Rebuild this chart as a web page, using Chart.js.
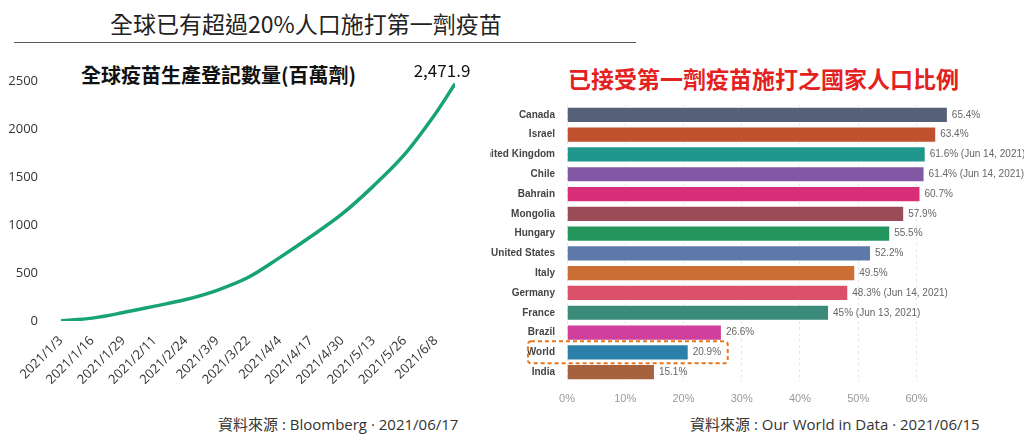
<!DOCTYPE html>
<html>
<head>
<meta charset="utf-8">
<script src="https://cdn.jsdelivr.net/npm/chart.js@4/dist/chart.umd.min.js"></script>
<style>
  body { margin: 0; background: #fff; width: 1024px; height: 441px; overflow: hidden; position: relative; font-family: 'Noto Sans CJK TC', 'Noto Sans', sans-serif; }
  .abs { position: absolute; white-space: nowrap; }
  #mainTitle { left: 110px; top: 6px; font-size: 23px; color: #222; }
  #rule { left: 14px; top: 42px; width: 622px; height: 0; border-top: 1.5px solid #555; }
  #leftSub { left: 81px; top: 60px; font-size: 20px; font-weight: bold; color: #111; }
  #rightTitle { left: 568px; top: 61px; font-size: 23px; font-weight: bold; color: #e3221f; }
  .src { font-family: 'Open Sans', 'Noto Sans CJK TC', sans-serif; font-size: 15px; color: #333; top: 413px; }
  #leftSrc { left: 218px; }
  #rightSrc { left: 690px; }
  #lineBox { left: 0; top: 0; width: 470px; height: 441px; }
  #barBox { left: 490px; top: 95px; width: 534px; height: 320px; }
</style>
</head>
<body>
<div class="abs" id="mainTitle">全球已有超過20%人口施打第一劑疫苗</div>
<div class="abs" id="rule"></div>
<div class="abs" id="leftSub">全球疫苗生產登記數量(百萬劑)</div>
<div class="abs" id="rightTitle">已接受第一劑疫苗施打之國家人口比例</div>
<div class="abs src" id="leftSrc">資料來源 : Bloomberg · 2021/06/17</div>
<div class="abs src" id="rightSrc">資料來源 : Our World in Data · 2021/06/15</div>
<div class="abs" id="lineBox"><canvas id="lineChart"></canvas></div>
<div class="abs" id="barBox"><canvas id="barChart"></canvas></div>

<script>
// left: cumulative vaccine doses registered (millions)
var lineDates = ['2021/1/3', '2021/1/16', '2021/1/29', '2021/2/11', '2021/2/24', '2021/3/9', '2021/3/22',
                 '2021/4/4', '2021/4/17', '2021/4/30', '2021/5/13', '2021/5/26', '2021/6/8', '2021/6/16'];
var lineValues = [3, 30, 88, 155, 224, 320, 455, 660, 880, 1115, 1405, 1735, 2165, 2471.9];
var lastLabel = '2,471.9';

// right: share of people with at least one dose
var countries = ['Canada', 'Israel', 'United Kingdom', 'Chile', 'Bahrain', 'Mongolia', 'Hungary',
                 'United States', 'Italy', 'Germany', 'France', 'Brazil', 'World', 'India'];
var shares = [65.4, 63.4, 61.6, 61.4, 60.7, 57.9, 55.5, 52.2, 49.5, 48.3, 45, 26.6, 20.9, 15.1];
var shareNotes = ['', '', ' (Jun 14, 2021)', ' (Jun 14, 2021)', '', '', '', '', '', ' (Jun 14, 2021)', ' (Jun 13, 2021)', '', '', ''];
var highlight = 'World';

var barColors = ['#566179', '#c0512e', '#20978c', '#8258a5', '#d92f78', '#9b4a57', '#24945d',
                 '#5d79a9', '#cb6f36', '#dc5169', '#3a8b79', '#d03f9c', '#2b80aa', '#a6613f'];

var DAY = 86400000;
function toDate(s) { var p = s.split('/'); return Date.UTC(+p[0], +p[1] - 1, +p[2]); }
var t0 = toDate(lineDates[0]);
var linePoints = lineDates.map(function(d, i) { return { x: Math.round((toDate(d) - t0) / DAY), y: lineValues[i] }; });

var endLabel = {
  id: 'endLabel',
  afterDatasetsDraw: function(chart) {
    var pt = chart.getDatasetMeta(0).data[linePoints.length - 1];
    var ctx = chart.ctx;
    ctx.save();
    ctx.font = '17px "Noto Sans CJK TC", sans-serif';
    ctx.fillStyle = '#111';
    ctx.textAlign = 'center';
    ctx.textBaseline = 'bottom';
    ctx.fillText(lastLabel, pt.x - 13, pt.y - 5);
    ctx.restore();
  }
};

new Chart(document.getElementById('lineChart'), {
  type: 'line',
  data: {
    datasets: [{
      data: linePoints,
      borderColor: '#17a472',
      borderWidth: 3.5,
      pointRadius: 0,
      tension: 0.35,
      fill: false
    }]
  },
  options: {
    responsive: true,
    maintainAspectRatio: false,
    animation: false,
    layout: { padding: { top: 81, right: 15, left: 0, bottom: 0 } },
    plugins: { legend: { display: false }, tooltip: { enabled: false } },
    scales: {
      x: {
        type: 'linear',
        min: 0,
        max: linePoints[linePoints.length - 1].x,
        afterFit: function(s) { s.height = 120; },
        afterBuildTicks: function(s) {
          var t = [];
          for (var v = 0; v <= s.max; v += 13) t.push({ value: v });
          s.ticks = t;
        },
        grid: { display: false },
        border: { display: false },
        ticks: {
          minRotation: 45, maxRotation: 45, padding: 4,
          color: '#333',
          font: { family: '"Open Sans", sans-serif', size: 13 },
          callback: function(v) {
            var d = new Date(t0 + v * DAY);
            return d.getUTCFullYear() + '/' + (d.getUTCMonth() + 1) + '/' + d.getUTCDate();
          }
        }
      },
      y: {
        min: 0, max: 2500,
        afterFit: function(s) { s.width = 61; },
        grid: { display: false },
        border: { display: false },
        ticks: {
          stepSize: 500, padding: 15,
          color: '#333',
          font: { family: '"Open Sans", sans-serif', size: 13 },
          callback: function(v) { return String(v); }
        }
      }
    }
  },
  plugins: [endLabel]
});

var barExtras = {
  id: 'barExtras',
  afterDatasetsDraw: function(chart) {
    var ctx = chart.ctx;
    var meta = chart.getDatasetMeta(0);
    ctx.save();
    ctx.font = '10px "Liberation Sans", Arial, sans-serif';
    ctx.fillStyle = '#666';
    ctx.textAlign = 'left';
    ctx.textBaseline = 'middle';
    meta.data.forEach(function(bar, i) {
      ctx.fillText(shares[i] + '%' + shareNotes[i], bar.x + 4, bar.y);
    });
    // dashed box round the highlighted row
    var hi = countries.indexOf(highlight);
    var hb = meta.data[hi];
    var x1 = chart.chartArea.left - 39;
    var x2 = chart.scales.x.getPixelForValue(27.6);
    var y1 = hb.y - 11, y2 = hb.y + 11;
    ctx.strokeStyle = '#e8761f';
    ctx.lineWidth = 2;
    ctx.setLineDash([4, 3]);
    ctx.beginPath();
    ctx.roundRect(x1, y1, x2 - x1, y2 - y1, 3);
    ctx.stroke();
    ctx.restore();
  }
};

new Chart(document.getElementById('barChart'), {
  type: 'bar',
  data: {
    labels: countries,
    datasets: [{
      data: shares,
      backgroundColor: barColors,
      borderColor: '#ffffff',
      borderWidth: 1,
      barPercentage: 0.82,
      categoryPercentage: 1
    }]
  },
  options: {
    indexAxis: 'y',
    responsive: true,
    maintainAspectRatio: false,
    animation: false,
    layout: { padding: { top: 8, right: 61, left: 0, bottom: 0 } },
    plugins: { legend: { display: false }, tooltip: { enabled: false } },
    scales: {
      x: {
        min: 0, max: 68,
        afterFit: function(s) { s.height = 33; },
        afterBuildTicks: function(s) { s.ticks = s.ticks.filter(function(t) { return t.value % 10 === 0; }); },
        grid: { color: '#e8e8e8', drawTicks: false },
        border: { display: false, dash: [3, 3] },
        ticks: {
          stepSize: 10, padding: 10,
          color: '#999',
          font: { family: '"Liberation Sans", Arial, sans-serif', size: 11 },
          callback: function(v) { return v + '%'; }
        }
      },
      y: {
        afterFit: function(s) { s.width = 77; },
        grid: { display: false },
        border: { display: false },
        ticks: {
          padding: 4,
          color: '#444',
          font: { family: '"Liberation Sans", Arial, sans-serif', size: 10, weight: 'bold' }
        }
      }
    }
  },
  plugins: [barExtras]
});
</script>
</body>
</html>
